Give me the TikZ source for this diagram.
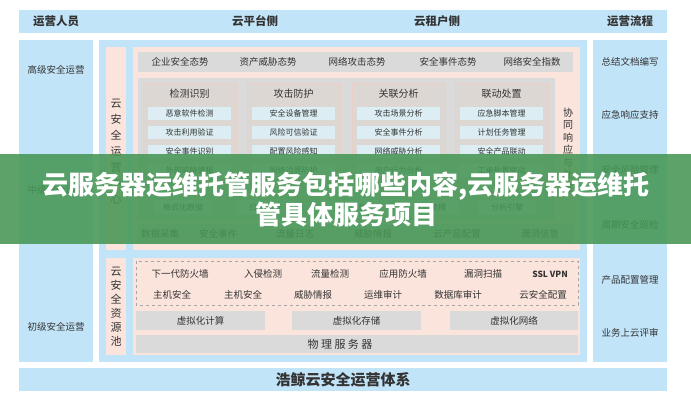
\documentclass[tikz,border=0pt]{standalone}
\usepackage{fontspec}
\setmainfont{Noto Sans CJK SC}
\usepackage{tikz}
\usetikzlibrary{positioning}
\definecolor{panelblue}{HTML}{C2E4F8}
\definecolor{panelpink}{HTML}{FBE4DC}
\definecolor{bargray}{HTML}{DADADA}
\definecolor{subgray}{HTML}{DDD7D3}
\definecolor{subedge}{HTML}{EACFC6}
\definecolor{itemblue}{HTML}{DCEEF3}
\definecolor{txt}{HTML}{333333}
\definecolor{banner}{RGB}{70,150,85}

\begin{document}
\begin{tikzpicture}[x=1pt,y=-1pt]
  \tikzstyle{head}=[text=txt,font=\fontsize{11.5}{12}\selectfont\bfseries]
  \tikzstyle{side}=[text=txt,font=\fontsize{9.5}{10}\selectfont]
  \tikzstyle{vert}=[text=txt,align=center,font=\fontsize{11}{16}\selectfont]
  \tikzstyle{bartext}=[text=txt,font=\fontsize{9.5}{10}\selectfont]
  \tikzstyle{subtitle}=[text=txt,font=\fontsize{10}{10}\selectfont]
  \tikzstyle{item}=[fill=itemblue,minimum width=83,minimum height=13,
                    inner sep=0,text=txt,font=\fontsize{8}{8}\selectfont]
  \tikzstyle{pill}=[item,minimum width=58,minimum height=14]
  \tikzstyle{banner text}=[text=white,font=\fontsize{26}{27}\selectfont\bfseries]

  \useasboundingbox (0,0) rectangle (691,400);
  \fill[white] (0,0) rectangle (691,400);

  % header and footer bands
  \fill[panelblue] (19,10) rectangle (667,33);
  \fill[panelblue] (19,368) rectangle (667,391);
  \node[head] (hOps) at (56,21.5) {运营人员};
  \node[head] (hPlat) at (255,21.5) {云平台侧};
  \node[head] (hTen) at (437,21.5) {云租户侧};
  \node[head] (hFlow) at (630,21.5) {运营流程};
  \node[head,font=\fontsize{15}{15}\selectfont\bfseries] (footer) at (343,379.5) {浩鲸云安全运营体系};

  % three columns
  \fill[panelblue] (19,40) rectangle (93,362);
  \fill[panelblue] (99,40) rectangle (587,362);
  \fill[panelblue] (593,40) rectangle (667,362);

  \node[side] (lvHigh) at (56,70) {高级安全运营};
  \node[side] (lvMid) at (56,190) {中级安全运营};
  \node[side] (lvLow) at (56,327) {初级安全运营};

  \foreach \y/\t [count=\i] in {62/总结文档编写,115/应急响应支持,170/安全风险管理,
                                225/周期安全巡检,280/产品配置管理,333/业务上云评审}
    \node[side] (flow\i) at (630,\y) {\t};

  % security operations center
  \fill[panelpink] (106,47) rectangle (126,250);
  \fill[panelpink] (133,47) rectangle (580,250);
  \node[vert] (socLabel) at (116,152) {云\\安\\全\\运\\营\\中\\心};

  \fill[bargray] (138,52) rectangle (573,72);
  \foreach \x/\t [count=\i] in {180/企业安全态势,268/资产威胁态势,357/网络攻击态势,
                                448/安全事件态势,532/网络安全指数}
    \node[bartext] (sit\i) at (\x,62) {\t};

  \fill[bargray] (138,78) rectangle (555,220);
  \foreach \x/\t/\a/\b/\c/\d [count=\i] in
      {143/检测识别/恶意软件检测/攻击利用验证/安全事件识别/外部威胁情报,
       247/攻击防护/安全设备管理/风险可信验证/配置风险感知/网络边界防护,
       352/关联分析/攻击场景分析/安全事件分析/网络威胁分析/用户行为分析,
       455/联动处置/应急脚本管理/计划任务管理/安全产品联动/工单处置联动}
  {
    \draw[subedge,fill=subgray] (\x,83) rectangle +(93,100);
    \node[subtitle] (sub\i) at (\x+46.5,94) {\t};
    \foreach \y/\s [count=\j] in {113/\a,132/\b,151/\c,170/\d}
      \node[item] (it\i\j) at (\x+46.5,\y) {\s};
  }

  \foreach \x/\t [count=\i] in {183/格式化数据,265/日志解析,350/资产信息,
                                430/威胁建模,507/分析引擎}
    \node[pill] (eng\i) at (\x,207) {\t};

  \node[vert,font=\fontsize{10}{12.5}\selectfont] (coop) at (568,150) {协\\同\\响\\应\\与\\处\\置};

  \fill[bargray] (138,224) rectangle (573,244);
  \foreach \x/\t [count=\i] in {160/数据采集,218/安全事件,295/流量日志,
                                373/威胁情报,457/云产品配置,540/漏洞信息}
    \node[bartext] (src\i) at (\x,234) {\t};

  % security resource pool
  \fill[panelpink] (106,258) rectangle (126,355);
  \fill[panelpink] (133,258) rectangle (580,355);
  \node[vert,font=\fontsize{11}{14}\selectfont] (poolLabel) at (116,307) {云\\安\\全\\资\\源\\池};

  \draw[black!35,dashed] (136,261) rectangle (578,305);
  \foreach \x/\t [count=\i] in {180/下一代防火墙,263/入侵检测,330/流量检测,
                                403/应用防火墙,483/漏洞扫描}
    \node[bartext] (prodA\i) at (\x,274) {\t};
  \node[bartext,font=\fontsize{8.5}{9}\selectfont\bfseries] (prodA6) at (550,274) {SSL VPN};
  \foreach \x/\t [count=\i] in {172/主机安全,243/主机安全,313/威胁情报,
                                383/运维审计,458/数据库审计,543/云安全配置}
    \node[bartext] (prodB\i) at (\x,295) {\t};

  \fill[bargray] (136,311) rectangle (265,330);
  \fill[bargray] (292,311) rectangle (421,330);
  \fill[bargray] (450,311) rectangle (578,330);
  \node[bartext] (virtC) at (200.5,320.5) {虚拟化计算};
  \node[bartext] (virtS) at (356.5,320.5) {虚拟化存储};
  \node[bartext] (virtN) at (514,320.5) {虚拟化网络};

  \fill[bargray] (136,335) rectangle (578,353);
  \node[bartext,font=\fontsize{11}{11}\selectfont] (phys) at (340,344) {物\ 理\ 服\ 务\ 器};

  % title banner over the diagram
  \fill[banner,opacity=0.88] (0,154) rectangle (691,244);
  \node[banner text] (title1) at (346,186) {云服务器运维托管服务包括哪些内容,云服务器运维托};
  \node[banner text] (title2) at (346,215) {管具体服务项目};
\end{tikzpicture}
\end{document}
